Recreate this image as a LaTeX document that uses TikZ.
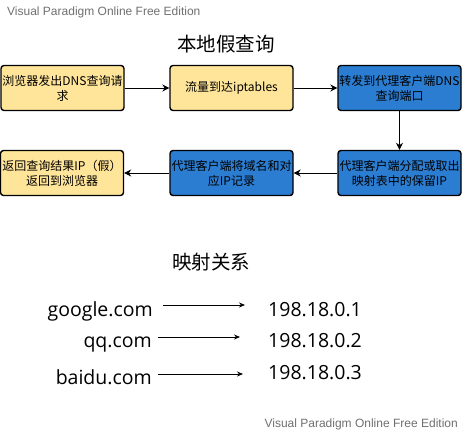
\documentclass[tikz,border=0pt]{standalone}
\usepackage{fontspec}
\usetikzlibrary{arrows.meta}
\setmainfont{Liberation Sans}
\newfontfamily\cjk{Noto Sans CJK SC}
\newfontfamily\opensans{Open Sans}
\definecolor{boxyellow}{HTML}{FFE599}
\definecolor{boxblue}{HTML}{2B7DD2}
\definecolor{wmgray}{HTML}{707070}
\newcommand{\boxline}[1]{\makebox[123pt][c]{#1}}
\tikzset{
  flowbox/.style={draw=black, line width=1.4pt, rounded corners=3pt, minimum width=123pt, minimum height=45pt, inner sep=0pt, align=center, text width=123pt, font=\cjk\fontsize{12}{15}\selectfont},
  ybox/.style={flowbox, fill=boxyellow},
  bbox/.style={flowbox, fill=boxblue},
  flowarrow/.style={draw=black, line width=0.9pt, -{Stealth[length=7pt,width=7pt]}},
  maparrow/.style={draw=black, line width=0.8pt, -{Stealth[length=6pt,width=5pt]}},
  maptext/.style={font=\opensans\fontsize{19.5}{22}\selectfont, inner sep=0pt},
  wm/.style={text=wmgray, font=\fontsize{12}{14}\selectfont, inner sep=0pt},
  titletext/.style={font=\cjk\fontsize{19.5}{22}\selectfont, inner sep=0pt}
}
\begin{document}
\begin{tikzpicture}[x=1pt,y=-1pt]
\path[use as bounding box, fill=white] (0,0) rectangle (462,432);
\node[wm, anchor=west] (wmtop) at (7,12) {Visual Paradigm Online Free Edition};
\node[wm, anchor=east] (wmbot) at (458,424) {Visual Paradigm Online Free Edition};
\node[titletext] (title) at (226,44) {本地假查询};

\node[ybox] (b1) at (62.5,88) {\boxline{浏览器发出DNS查询请}\\\boxline{求}};
\node[ybox] (b2) at (231.5,88) {\boxline{流量到达iptables}};
\node[bbox] (b3) at (399.5,88) {\boxline{转发到代理客户端DNS}\\\boxline{查询端口}};
\node[bbox] (b6) at (399.5,173) {\boxline{代理客户端分配或取出}\\\boxline{映射表中的保留IP}};
\node[bbox] (b5) at (231.5,173) {\boxline{代理客户端将域名和对}\\\boxline{应IP记录}};
\node[ybox] (b4) at (62,173) {\boxline{返回查询结果IP（假）}\\\boxline{返回到浏览器}};

\draw[flowarrow] (b1) -- (b2);
\draw[flowarrow] (b2) -- (b3);
\draw[flowarrow] (b3) -- (b6);
\draw[flowarrow] (b6) -- (b5);
\draw[flowarrow] (b5) -- (b4);

\node[titletext] (maptitle) at (211,262) {映射关系};

\node[maptext, anchor=base east] (d1) at (153,316) {google.com};
\node[maptext, anchor=base east] (d2) at (152,347) {qq.com};
\node[maptext, anchor=base east] (d3) at (152,384) {baidu.com};
\node[maptext, anchor=base west] (ip1) at (268,316) {198.18.0.1};
\node[maptext, anchor=base west] (ip2) at (268,347) {198.18.0.2};
\node[maptext, anchor=base west] (ip3) at (268,379) {198.18.0.3};

\coordinate (a1s) at (163,305);
\coordinate (a1e) at (245,305);
\coordinate (a2s) at (158,337);
\coordinate (a2e) at (240,337);
\coordinate (a3s) at (158,374);
\coordinate (a3e) at (243,374);
\draw[maparrow] (a1s) -- (a1e);
\draw[maparrow] (a2s) -- (a2e);
\draw[maparrow] (a3s) -- (a3e);
\end{tikzpicture}
\end{document}
